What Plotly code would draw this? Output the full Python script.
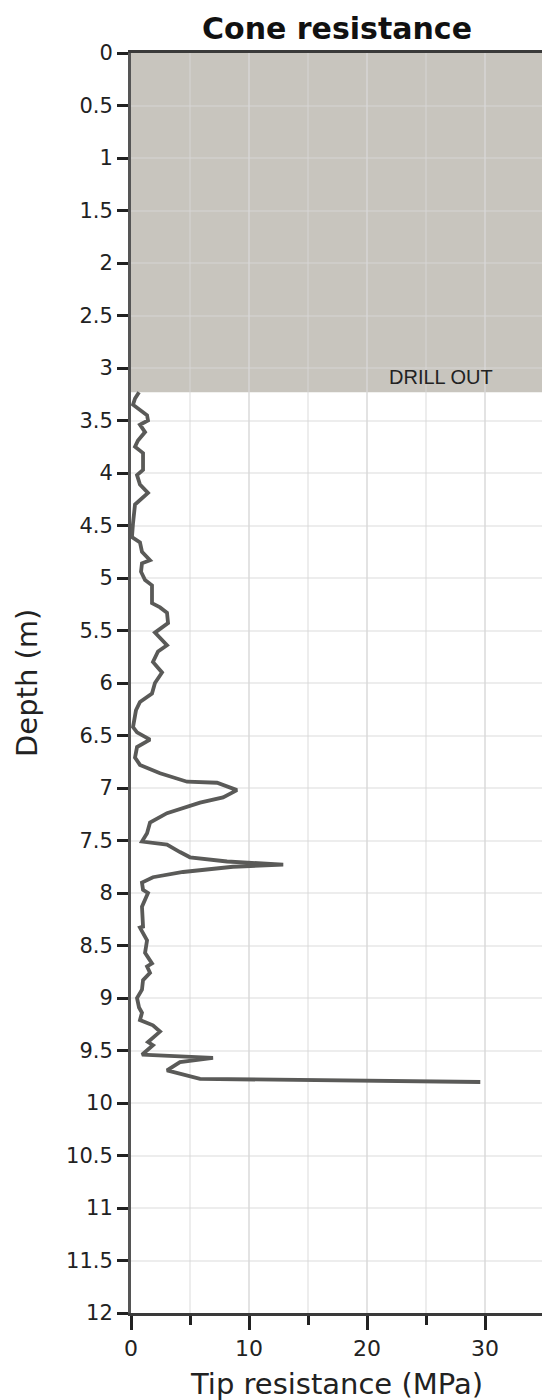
import plotly.graph_objects as go

# Cone penetration data
depth_m = [3.23, 3.29, 3.35, 3.45, 3.50, 3.54, 3.61, 3.69, 3.75, 3.81, 3.97, 4.02, 4.11, 4.19,
           4.30, 4.38, 4.48, 4.61, 4.66, 4.75, 4.83, 4.86, 4.94, 5.02, 5.07, 5.24, 5.28, 5.33,
           5.43, 5.52, 5.64, 5.70, 5.80, 5.90, 6.00, 6.10, 6.18, 6.26, 6.42, 6.47, 6.54, 6.61,
           6.71, 6.78, 6.86, 6.94, 6.95, 7.02, 7.09, 7.14, 7.24, 7.33, 7.43, 7.51, 7.52, 7.54,
           7.61, 7.66, 7.70, 7.73, 7.75, 7.80, 7.85, 7.90, 7.97, 8.00, 8.13, 8.32, 8.33, 8.45,
           8.57, 8.67, 8.70, 8.76, 8.83, 8.92, 9.00, 9.09, 9.14, 9.21, 9.26, 9.32, 9.42, 9.45,
           9.54, 9.57, 9.61, 9.69, 9.77, 9.78, 9.79, 9.80]
tip_mpa = [0.68, 0.34, 0.17, 1.36, 1.44, 0.76, 1.19, 0.59, 0.34, 1.02, 1.02, 0.51, 0.76, 1.44,
           0.34, 0.25, 0.17, 0.08, 0.76, 0.93, 1.61, 0.93, 0.85, 1.19, 1.78, 1.78, 2.46, 3.05,
           3.14, 2.03, 3.05, 2.29, 1.86, 2.63, 2.03, 1.78, 0.76, 0.42, 0.17, 0.51, 1.61, 0.51,
           0.34, 0.76, 2.46, 4.75, 7.29, 8.98, 7.80, 5.85, 3.05, 1.61, 1.36, 0.93, 1.61, 3.05,
           4.15, 5.00, 8.14, 12.9, 8.64, 4.41, 1.86, 0.93, 1.02, 1.44, 0.93, 1.02, 0.76, 1.36,
           1.19, 1.78, 1.36, 1.61, 1.02, 0.93, 0.51, 0.68, 0.93, 0.76, 1.86, 2.46, 1.44, 1.86,
           0.93, 6.95, 4.15, 3.05, 5.85, 14.3, 22.8, 29.6]

drill_out_bottom = 3.23
depth_ticks = [0, 0.5, 1, 1.5, 2, 2.5, 3, 3.5, 4, 4.5, 5, 5.5, 6, 6.5, 7, 7.5, 8, 8.5, 9,
               9.5, 10, 10.5, 11, 11.5, 12]
depth_labels = ["0", "0.5", "1", "1.5", "2", "2.5", "3", "3.5", "4", "4.5", "5", "5.5", "6",
                "6.5", "7", "7.5", "8", "8.5", "9", "9.5", "10", "10.5", "11", "11.5", "12"]
x_ticks = [0, 10, 20, 30]
x_labels = ["0", "10", "20", "30"]

FONT = "DejaVu Sans"
GRID = "rgba(215,215,215,0.45)"

fig = go.Figure()
fig.add_trace(go.Scatter(
    x=tip_mpa, y=depth_m, mode="lines",
    line=dict(color="#5a5a58", width=3.8),
    showlegend=False, hoverinfo="skip",
))

fig.add_shape(type="rect", xref="paper", yref="y", x0=0, x1=1, y0=0, y1=drill_out_bottom,
              fillcolor="#c8c5be", line=dict(width=0), layer="below")

fig.add_annotation(text="DRILL OUT", x=26.3, y=3.09, xref="x", yref="y",
                   showarrow=False, font=dict(family="Liberation Sans", size=20, color="#222"))

fig.add_annotation(text="<b>Cone resistance</b>", xref="paper", yref="paper", x=0.5, y=1,
                   yanchor="middle", yshift=25, showarrow=False,
                   font=dict(family=FONT, size=30, color="#111"))
fig.add_annotation(text="Tip resistance (MPa)", xref="paper", yref="paper", x=0.5, y=0,
                   yanchor="middle", yshift=-71, showarrow=False,
                   font=dict(family=FONT, size=29, color="#222"))
fig.add_annotation(text="Depth (m)", xref="paper", yref="paper", x=0, y=0.5,
                   xanchor="center", yanchor="middle", xshift=-104, textangle=-90,
                   showarrow=False, font=dict(family=FONT, size=29, color="#222"))

fig.update_layout(
    width=542, height=1400,
    margin=dict(l=131, r=0, t=53, b=87),
    paper_bgcolor="white", plot_bgcolor="white",
    font=dict(family=FONT, size=21, color="#222"),
)
fig.update_xaxes(
    range=[0, 34.83], tickvals=x_ticks, ticktext=x_labels,
    ticks="outside", ticklen=14, tickwidth=2.5, tickcolor="#222",
    showline=True, linecolor="#3a3a3a", linewidth=3, mirror=True,
    showgrid=True, gridcolor=GRID, gridwidth=2,
    minor=dict(dtick=5, tick0=0, ticks="outside", ticklen=9, tickwidth=2.5,
               tickcolor="#222", showgrid=True, gridcolor=GRID, gridwidth=2),
    zeroline=False, tickfont=dict(family=FONT, size=22, color="#222"),
)
fig.update_yaxes(
    range=[12, 0], tickvals=depth_ticks, ticktext=depth_labels,
    ticks="outside", ticklen=11, tickwidth=2.5, tickcolor="#222",
    showline=True, linecolor="#555", linewidth=3, mirror=False,
    showgrid=True, gridcolor=GRID, gridwidth=2,
    zeroline=False, tickfont=dict(family=FONT, size=21, color="#222"),
)

fig.write_html("out.html", config={"displayModeBar": False},
               post_script="document.body.style.margin='0';document.body.style.overflow='hidden';")
